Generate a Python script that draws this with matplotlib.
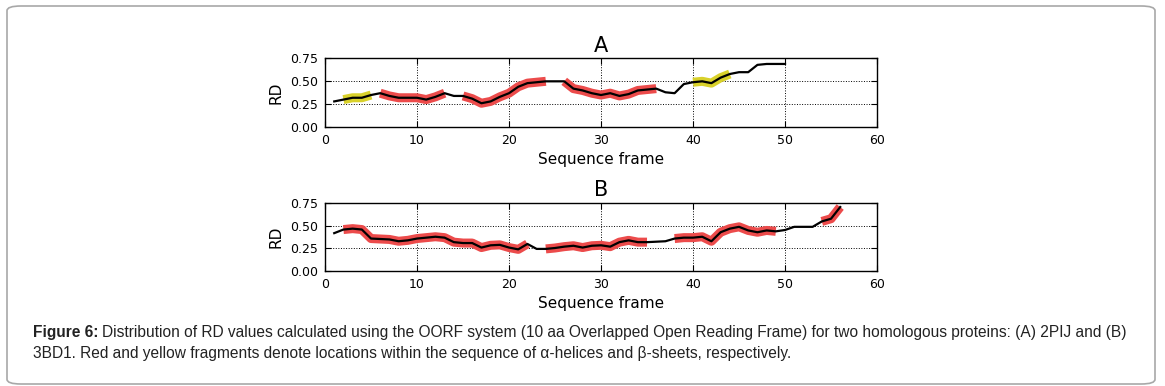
import matplotlib
matplotlib.use("Agg")
import matplotlib.pyplot as plt
import numpy as np
from matplotlib.patches import FancyBboxPatch

# RD values per sequence frame
frames_a = np.arange(1, 51)
rd_a = [0.28, 0.30, 0.32, 0.32, 0.35, 0.37, 0.34, 0.32, 0.32, 0.32,
        0.30, 0.33, 0.37, 0.34, 0.34, 0.31, 0.26, 0.28, 0.33, 0.37,
        0.44, 0.48, 0.49, 0.50, 0.50, 0.50, 0.42, 0.40, 0.37, 0.35,
        0.37, 0.34, 0.36, 0.40, 0.41, 0.42, 0.38, 0.37, 0.47, 0.49,
        0.50, 0.48, 0.54, 0.58, 0.60, 0.60, 0.68, 0.69, 0.69, 0.69]

frames_b = np.arange(1, 57)
rd_b = [0.42, 0.46, 0.47, 0.46, 0.36, 0.355, 0.35, 0.33, 0.34, 0.36,
        0.37, 0.38, 0.37, 0.32, 0.31, 0.31, 0.26, 0.285, 0.29, 0.26,
        0.24, 0.30, 0.245, 0.245, 0.255, 0.27, 0.28, 0.26, 0.28, 0.285,
        0.27, 0.32, 0.34, 0.32, 0.32, 0.325, 0.33, 0.36, 0.37, 0.37,
        0.38, 0.33, 0.43, 0.47, 0.49, 0.45, 0.43, 0.45, 0.44, 0.455,
        0.49, 0.49, 0.49, 0.55, 0.58, 0.71]

# secondary structure fragments (first frame, last frame, kind)
frag_a = [(2, 5, "beta"), (6, 13, "alpha"), (15, 24, "alpha"),
          (26, 36, "alpha"), (40, 44, "beta")]
frag_b = [(2, 22, "alpha"), (24, 35, "alpha"), (38, 49, "alpha"),
          (54, 56, "alpha")]

colors = {"alpha": "#ec4b4b", "beta": "#d9d12b"}

fig = plt.figure(figsize=(11.65, 3.86), dpi=100)

def panel(rect, frames, rd, frags, title):
    ax = fig.add_axes(rect)
    frames = np.asarray(frames)
    rd = np.asarray(rd)
    for s, e, kind in frags:
        m = (frames >= s) & (frames <= e)
        ax.plot(frames[m], rd[m], color=colors[kind], lw=6.5,
                solid_capstyle="butt", zorder=2)
    ax.plot(frames, rd, color="black", lw=1.6, zorder=3)
    ax.set_xlim(0, 60)
    ax.set_ylim(0, 0.75)
    ax.set_xticks(range(0, 61, 10))
    ax.set_yticks([0, 0.25, 0.5, 0.75])
    ax.set_yticklabels(["0.00", "0.25", "0.50", "0.75"])
    ax.grid(True, color="black", linestyle=":", linewidth=0.7)
    ax.tick_params(direction="in", top=True, right=True, length=4,
                   labelsize=9, pad=5)
    for sp in ax.spines.values():
        sp.set_linewidth(1.0)
    ax.set_xlabel("Sequence frame", fontsize=11, labelpad=4)
    ax.set_ylabel("RD", fontsize=11, labelpad=5)
    ax.set_title(title, fontsize=15, pad=5)
    return ax

panel([0.279, 0.671, 0.4738, 0.1775], frames_a, rd_a, frag_a, "A")
panel([0.279, 0.298, 0.4738, 0.175], frames_b, rd_b, frag_b, "B")

# rounded frame around the figure
box = FancyBboxPatch((7 / 1165, 2 / 386), 1148 / 1165, 378 / 386,
                     boxstyle="round,pad=0,rounding_size=0.012",
                     transform=fig.transFigure, fill=False,
                     edgecolor="#a8a8a8", linewidth=1.2)
fig.patches.append(box)

cap_font = ["Liberation Sans", "DejaVu Sans"]
cap_size = 11.2
t1 = fig.text(33 / 1165, 1 - 337 / 386, "Figure 6:", fontsize=cap_size,
              fontweight="bold", family=cap_font, va="baseline", color="#222222")
fig.canvas.draw()
bb = t1.get_window_extent(fig.canvas.get_renderer())
fig.text(bb.x1 / 1165 + 4 / 1165, 1 - 337 / 386,
         "Distribution of RD values calculated using the OORF system (10 aa Overlapped Open "
         "Reading Frame) for two homologous proteins: (A) 2PIJ and (B)",
         fontsize=cap_size, family=cap_font, va="baseline", color="#222222")
fig.text(33 / 1165, 1 - 358 / 386,
         "3BD1. Red and yellow fragments denote locations within the sequence of "
         "\u03b1-helices and \u03b2-sheets, respectively.",
         fontsize=cap_size, family=cap_font, va="baseline", color="#222222")

fig.savefig("out.png", dpi=100)
